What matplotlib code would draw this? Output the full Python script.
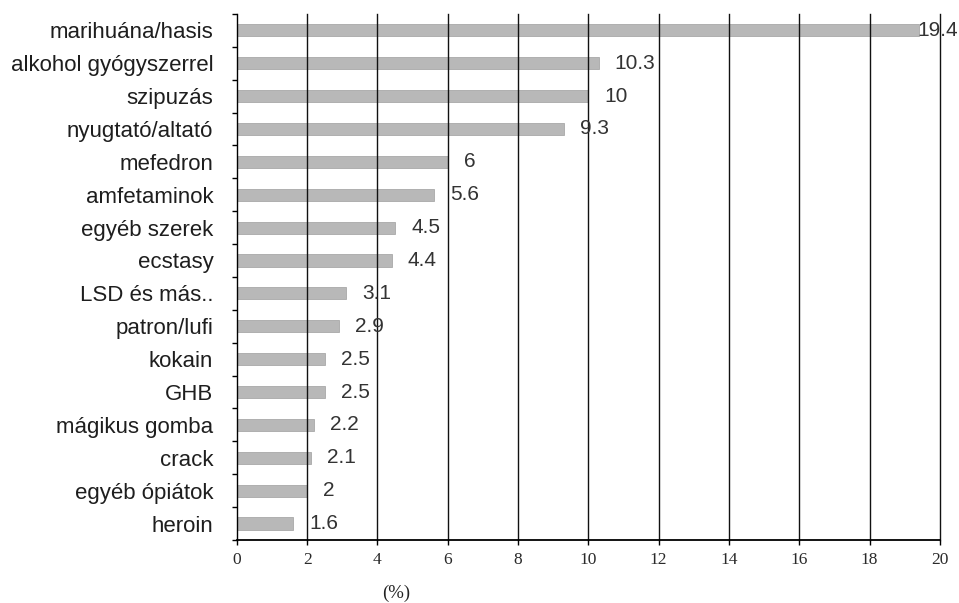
import matplotlib.pyplot as plt
import numpy as np

# szerhasználat aránya (%)
szerek = ['marihuána/hasis', 'alkohol gyógyszerrel', 'szipuzás', 'nyugtató/altató',
          'mefedron', 'amfetaminok', 'egyéb szerek', 'ecstasy', 'LSD és más..',
          'patron/lufi', 'kokain', 'GHB', 'mágikus gomba', 'crack',
          'egyéb ópiátok', 'heroin']
arany = [19.4, 10.3, 10, 9.3, 6, 5.6, 4.5, 4.4, 3.1, 2.9, 2.5, 2.5, 2.2, 2.1, 2, 1.6]
cimkek = ['19.4', '10.3', '10', '9.3', '6', '5.6', '4.5', '4.4', '3.1', '2.9',
          '2.5', '2.5', '2.2', '2.1', '2', '1.6']
x_ticks = list(range(0, 21, 2))

fig = plt.figure(figsize=(9.59, 6.03), dpi=100)
ax = fig.add_axes([0.247, 0.1045, 0.733, 0.8725])

y = np.arange(len(szerek))
ax.barh(y, arany, height=0.37, color='#b8b8b8', edgecolor='#a8a8a8', linewidth=0.6, zorder=1)

ax.set_xlim(0, 20)
ax.set_ylim(len(szerek) - 0.5, -0.5)

# függőleges rácsvonalak a sávok fölött
for t in x_ticks[1:]:
    ax.axvline(t, color='#111111', linewidth=1.0, zorder=2, clip_on=False)

ax.set_yticks(y)
ax.set_yticklabels(szerek, fontsize=16, family='Liberation Sans', color='#1e1e1e')
ax.set_yticks(np.arange(len(szerek) + 1) - 0.5, minor=True)
ax.tick_params(axis='y', which='major', length=0, pad=17)
ax.tick_params(axis='y', which='minor', length=3.6, width=1, direction='out')

ax.set_xticks(x_ticks)
ax.set_xticklabels([str(t) for t in x_ticks], fontsize=12.5, family='Liberation Serif', color='#2a2a2a')
ax.tick_params(axis='x', length=3.6, width=1, direction='out', pad=5)

for s in ['top', 'right']:
    ax.spines[s].set_visible(False)
ax.spines['left'].set_linewidth(1.0)
ax.spines['bottom'].set_linewidth(1.3)

# értékcímkék a sávok mellett
for yi, v, c in zip(y, arany, cimkek):
    if v > 19:
        ax.annotate(c, xy=(20, yi), xytext=(13, 0), textcoords='offset points',
                    ha='right', va='center', fontsize=15, family='Liberation Sans',
                    color='#333333', zorder=3, annotation_clip=False)
    else:
        ax.annotate(c, xy=(v, yi), xytext=(11.5, 0), textcoords='offset points',
                    ha='left', va='center', fontsize=15, family='Liberation Sans',
                    color='#333333', zorder=3)

fig.text(396 / 959, 1 - 593 / 603, '(%)', ha='center', va='center',
         fontsize=13.5, family='Liberation Serif', color='#222222')

fig.savefig('out.png', dpi=100)
